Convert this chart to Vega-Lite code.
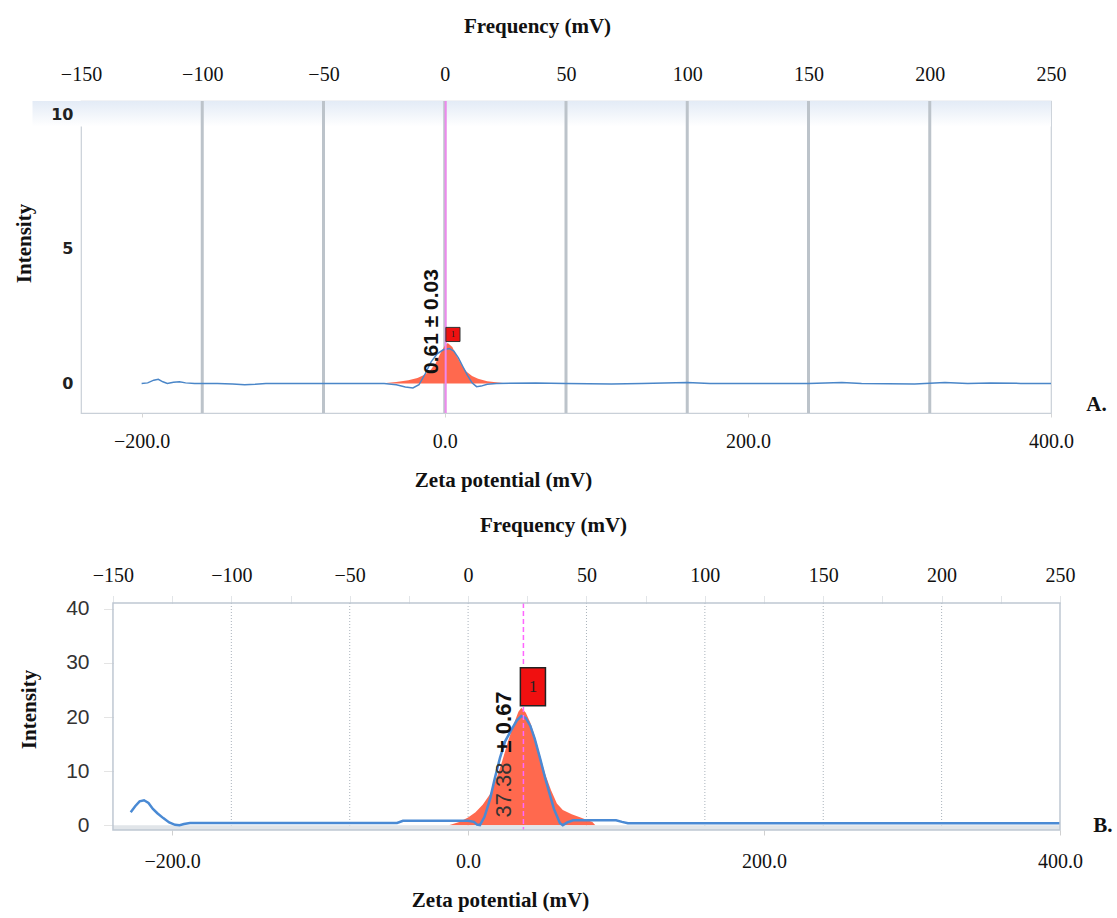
{
  "$schema": "https://vega.github.io/schema/vega-lite/v6.json",
  "background": "white",
  "padding": {"left": 13, "top": 14, "right": 4, "bottom": 4},
  "columns": 1,
  "spacing": 23,
  "config": {
    "axis": {"labelFlush": false, "labelOverlap": false, "labelBound": false, "domain": false, "grid": false},
    "text": {"font": "Liberation Sans"}
  },
  "datasets": {
    "bandA": [{"lo": 9.55, "hi": 10.5}],
    "gridA": [{"f": -100}, {"f": -50}, {"f": 0}, {"f": 50}, {"f": 100}, {"f": 150}, {"f": 200}],
    "gridB": [{"f": -100}, {"f": -50}, {"f": 0}, {"f": 50}, {"f": 100}, {"f": 150}, {"f": 200}],
    "lineA": [
      {"z": -200, "v": 0}, {"z": -196, "v": 0.02}, {"z": -192, "v": 0.12}, {"z": -189, "v": 0.15}, {"z": -186, "v": 0.06},
      {"z": -183, "v": 0.0}, {"z": -179, "v": 0.04}, {"z": -175, "v": 0.06}, {"z": -171, "v": 0.02}, {"z": -165, "v": 0},
      {"z": -150, "v": 0}, {"z": -140, "v": -0.02}, {"z": -132, "v": -0.05}, {"z": -125, "v": -0.03}, {"z": -118, "v": 0},
      {"z": -60, "v": 0}, {"z": -40, "v": 0}, {"z": -32, "v": -0.05}, {"z": -26, "v": -0.13}, {"z": -21, "v": -0.17},
      {"z": -17, "v": -0.05}, {"z": -13, "v": 0.35}, {"z": -9, "v": 0.8}, {"z": -5, "v": 1.1}, {"z": -1, "v": 1.25},
      {"z": 3, "v": 1.3}, {"z": 6, "v": 1.2}, {"z": 9, "v": 0.95}, {"z": 12, "v": 0.62}, {"z": 15, "v": 0.3},
      {"z": 18, "v": 0.02}, {"z": 21, "v": -0.12}, {"z": 24, "v": -0.1}, {"z": 28, "v": -0.03}, {"z": 34, "v": 0},
      {"z": 60, "v": 0.02}, {"z": 80, "v": 0}, {"z": 110, "v": -0.02}, {"z": 130, "v": 0}, {"z": 160, "v": 0.03},
      {"z": 175, "v": 0}, {"z": 240, "v": 0}, {"z": 262, "v": 0.03}, {"z": 275, "v": 0}, {"z": 310, "v": -0.02},
      {"z": 330, "v": 0.03}, {"z": 345, "v": 0}, {"z": 360, "v": 0.02}, {"z": 380, "v": 0}, {"z": 400, "v": 0}
    ],
    "areaA": [
      {"z": -42, "v": 0}, {"z": -32, "v": 0.05}, {"z": -24, "v": 0.12}, {"z": -18, "v": 0.2}, {"z": -14, "v": 0.3},
      {"z": -10, "v": 0.45}, {"z": -6, "v": 0.75}, {"z": -3, "v": 1.1}, {"z": 0, "v": 1.4}, {"z": 2, "v": 1.5},
      {"z": 5, "v": 1.35}, {"z": 8, "v": 1.0}, {"z": 11, "v": 0.7}, {"z": 14, "v": 0.45}, {"z": 18, "v": 0.28},
      {"z": 22, "v": 0.17}, {"z": 28, "v": 0.08}, {"z": 35, "v": 0.03}, {"z": 42, "v": 0}
    ],
    "peakA": [{"z": 0.61}],
    "labA": [{"z": -8.4, "v": 2.3, "t": "0.61 ± 0.03"}],
    "boxA": [{"z": 5.4, "v": 1.82, "t": "1"}],
    "tagA": [{"z": 430, "v": -0.8, "t": "A."}],
    "lineB": [
      {"z": -228, "v": 2.4}, {"z": -225, "v": 3.5}, {"z": -222, "v": 4.4}, {"z": -219, "v": 4.6}, {"z": -216, "v": 4.1},
      {"z": -213, "v": 3.0}, {"z": -210, "v": 2.2}, {"z": -206, "v": 1.3}, {"z": -202, "v": 0.5}, {"z": -198, "v": 0.05},
      {"z": -195, "v": 0.0}, {"z": -192, "v": 0.2}, {"z": -188, "v": 0.4}, {"z": -120, "v": 0.4}, {"z": -48, "v": 0.4},
      {"z": -44, "v": 0.8}, {"z": 0, "v": 0.8}, {"z": 4, "v": 0.6}, {"z": 6, "v": 0.1}, {"z": 8, "v": 0.0},
      {"z": 11, "v": 1.5}, {"z": 13, "v": 3.2}, {"z": 15, "v": 5.0}, {"z": 18, "v": 8.6}, {"z": 21.5, "v": 12.4},
      {"z": 25, "v": 15.5}, {"z": 30, "v": 18.0}, {"z": 33, "v": 19.4}, {"z": 36, "v": 20.2}, {"z": 39, "v": 19.8},
      {"z": 42, "v": 18.4}, {"z": 45, "v": 16.0}, {"z": 48.6, "v": 12.4}, {"z": 52, "v": 8.8}, {"z": 55.3, "v": 5.6},
      {"z": 58, "v": 3.0}, {"z": 62, "v": 0.4}, {"z": 64, "v": 0.0}, {"z": 67, "v": 0.5}, {"z": 71, "v": 0.9},
      {"z": 100, "v": 0.9}, {"z": 104, "v": 0.6}, {"z": 108, "v": 0.35}, {"z": 400, "v": 0.35}
    ],
    "areaB": [
      {"z": -13, "v": 0}, {"z": -6, "v": 0.6}, {"z": 0, "v": 1.4}, {"z": 5, "v": 2.4}, {"z": 10, "v": 3.8},
      {"z": 15, "v": 5.8}, {"z": 19, "v": 8.5}, {"z": 23, "v": 11.8}, {"z": 27, "v": 15.5}, {"z": 31, "v": 18.8},
      {"z": 34, "v": 21.0}, {"z": 36, "v": 21.7}, {"z": 39, "v": 20.8}, {"z": 42, "v": 19.0}, {"z": 45, "v": 16.5},
      {"z": 48, "v": 13.5}, {"z": 52, "v": 9.5}, {"z": 56, "v": 6.5}, {"z": 60, "v": 4.0}, {"z": 64, "v": 2.8},
      {"z": 70, "v": 2.0}, {"z": 76, "v": 1.4}, {"z": 84, "v": 0.6}, {"z": 86, "v": 0}
    ],
    "peakB": [{"z": 37.38}],
    "lab1B": [{"z": 24.2, "v": 6.5, "t": "37.38"}],
    "lab2B": [{"z": 24.2, "v": 19.1, "t": "± 0.67"}],
    "boxB": [{"z": 43.8, "v": 25.6, "t": "1"}],
    "tagB": [{"z": 429, "v": -0.2, "t": "B."}]
  },
  "concat": [
    {
      "width": 970,
      "height": 312,
      "view": {"stroke": "#c9d0d8", "strokeWidth": 1.2},
      "resolve": {"scale": {"x": "independent"}},
      "layer": [
        {
          "data": {"name": "bandA"},
          "mark": {"type": "rect", "color": {"gradient": "linear", "x1": 0, "y1": 0, "x2": 0, "y2": 1, "stops": [{"offset": 0, "color": "#e3ebf6"}, {"offset": 1, "color": "#ffffff"}]}},
          "encoding": {
            "x": {"datum": -272, "type": "quantitative", "scale": {"domain": [-240, 400], "nice": false, "zero": false}, "axis": null},
            "x2": {"datum": 400},
            "y": {"field": "lo", "type": "quantitative", "scale": {"domain": [-1.1, 10.5], "nice": false, "zero": false},
              "axis": {"values": [0, 5, 10], "zindex": 1, "title": "Intensity", "titleFont": "Liberation Serif", "titleFontWeight": "bold", "titleFontSize": 21,
                "titleColor": "#111", "titlePadding": 16, "titleY": 142, "labelFont": "DejaVu Sans", "labelFontWeight": "bold", "labelFontSize": 16,
                "labelColor": "#222", "labelPadding": 8, "ticks": false}},
            "y2": {"field": "hi"}
          }
        },
        {
          "data": {"name": "gridA"},
          "mark": {"type": "rule", "color": "#bcc3ca", "strokeWidth": 3},
          "encoding": {
            "x": {"field": "f", "type": "quantitative", "scale": {"domain": [-150, 250], "nice": false, "zero": false},
              "axis": {"orient": "top", "values": [-150, -100, -50, 0, 50, 100, 150, 200, 250], "title": "Frequency (mV)",
                "titleFont": "Liberation Serif", "titleFontWeight": "bold", "titleFontSize": 21, "titleColor": "#111", "titlePadding": 28, "titleX": 456,
                "labelFont": "Liberation Serif", "labelFontSize": 20, "labelColor": "#111", "labelPadding": 17, "ticks": false, "tickSize": 0}}
          }
        },
        {
          "layer": [
            {
              "data": {"name": "areaA"},
              "mark": {"type": "area", "color": "#ff6145", "opacity": 0.95},
              "encoding": {
                "x": {"field": "z", "type": "quantitative", "scale": {"domain": [-240, 400], "nice": false, "zero": false},
                  "axis": {"orient": "bottom", "values": [-200, 0, 200, 400], "format": ".1f", "title": "Zeta potential (mV)",
                    "titleFont": "Liberation Serif", "titleFontWeight": "bold", "titleFontSize": 21, "titleColor": "#111", "titlePadding": 18, "titleX": 422,
                    "labelFont": "Liberation Serif", "labelFontSize": 20, "labelColor": "#111", "labelPadding": 14, "ticks": true, "tickSize": 4, "tickColor": "#d6d6d6"}},
                "y": {"field": "v", "type": "quantitative", "scale": {"domain": [-1.1, 10.5], "nice": false, "zero": false}}
              }
            },
            {
              "data": {"name": "lineA"},
              "mark": {"type": "line", "color": "#4a86c8", "strokeWidth": 1.5},
              "encoding": {
                "x": {"field": "z", "type": "quantitative", "scale": {"domain": [-240, 400], "nice": false, "zero": false}},
                "y": {"field": "v", "type": "quantitative", "scale": {"domain": [-1.1, 10.5], "nice": false, "zero": false}}
              }
            },
            {
              "data": {"name": "peakA"},
              "mark": {"type": "rule", "color": "#ee88ee", "strokeWidth": 2},
              "encoding": {"x": {"field": "z", "type": "quantitative", "scale": {"domain": [-240, 400], "nice": false, "zero": false}}}
            },
            {
              "data": {"name": "labA"},
              "mark": {"type": "text", "angle": 270, "align": "center", "baseline": "middle", "font": "Liberation Sans", "fontWeight": "bold", "fontSize": 21, "color": "#111"},
              "encoding": {
                "x": {"field": "z", "type": "quantitative", "scale": {"domain": [-240, 400], "nice": false, "zero": false}},
                "y": {"field": "v", "type": "quantitative", "scale": {"domain": [-1.1, 10.5], "nice": false, "zero": false}},
                "text": {"field": "t"}
              }
            },
            {
              "data": {"name": "boxA"},
              "mark": {"type": "point", "shape": "square", "size": 200, "filled": true, "color": "#ee1111", "stroke": "#333", "strokeWidth": 1, "opacity": 1},
              "encoding": {
                "x": {"field": "z", "type": "quantitative", "scale": {"domain": [-240, 400], "nice": false, "zero": false}},
                "y": {"field": "v", "type": "quantitative", "scale": {"domain": [-1.1, 10.5], "nice": false, "zero": false}}
              }
            },
            {
              "data": {"name": "boxA"},
              "mark": {"type": "text", "align": "center", "baseline": "middle", "font": "Liberation Serif", "fontSize": 9, "color": "#222"},
              "encoding": {
                "x": {"field": "z", "type": "quantitative", "scale": {"domain": [-240, 400], "nice": false, "zero": false}},
                "y": {"field": "v", "type": "quantitative", "scale": {"domain": [-1.1, 10.5], "nice": false, "zero": false}},
                "text": {"field": "t"}
              }
            },
            {
              "data": {"name": "tagA"},
              "mark": {"type": "text", "align": "center", "baseline": "middle", "font": "Liberation Serif", "fontWeight": "bold", "fontSize": 21, "color": "#111"},
              "encoding": {
                "x": {"field": "z", "type": "quantitative", "scale": {"domain": [-240, 400], "nice": false, "zero": false}},
                "y": {"field": "v", "type": "quantitative", "scale": {"domain": [-1.1, 10.5], "nice": false, "zero": false}},
                "text": {"field": "t"}
              }
            }
          ]
        }
      ]
    },
    {
      "width": 979,
      "height": 227,
      "view": {"stroke": null},
      "resolve": {"scale": {"x": "independent"}},
      "layer": [
        {
          "data": {"name": "gridB"},
          "mark": {"type": "rule", "color": "#aab3bc", "strokeWidth": 1, "strokeDash": [1, 2]},
          "encoding": {
            "x": {"field": "f", "type": "quantitative", "scale": {"domain": [-163.5, 250], "nice": false, "zero": false},
              "axis": {"orient": "top", "values": [-150, -125, -100, -75, -50, -25, 0, 25, 50, 75, 100, 125, 150, 175, 200, 225, 250],
                "labelExpr": "datum.value % 50 === 0 ? datum.label : ''", "title": "Frequency (mV)",
                "titleFont": "Liberation Serif", "titleFontWeight": "bold", "titleFontSize": 21, "titleColor": "#111", "titlePadding": 30, "titleX": 472,
                "labelFont": "Liberation Serif", "labelFontSize": 20, "labelColor": "#111", "labelPadding": 10, "ticks": true, "tickSize": 8, "tickColor": "#c4cad0", "tickDash": [1, 1]}}
          }
        },
        {
          "layer": [
            {
              "data": {"name": "areaB"},
              "mark": {"type": "area", "color": "#ff6145", "opacity": 0.95},
              "encoding": {
                "x": {"field": "z", "type": "quantitative", "scale": {"domain": [-261.6, 400], "nice": false, "zero": false},
                  "axis": {"orient": "bottom", "values": [-200, 0, 200, 400], "format": ".1f", "title": "Zeta potential (mV)",
                    "titleFont": "Liberation Serif", "titleFontWeight": "bold", "titleFontSize": 21, "titleColor": "#111", "titlePadding": 18, "titleX": 419,
                    "labelFont": "Liberation Serif", "labelFontSize": 20, "labelColor": "#111", "labelPadding": 16, "ticks": true, "tickSize": 5, "tickColor": "#d0d0d0"}},
                "y": {"field": "v", "type": "quantitative", "scale": {"domain": [-0.9, 41.1], "nice": false, "zero": false},
                  "axis": {"values": [0, 10, 20, 30, 40], "offset": -32, "title": "Intensity", "titleFont": "Liberation Serif", "titleFontWeight": "bold", "titleFontSize": 21,
                    "titleColor": "#111", "titlePadding": 26, "titleY": 106, "labelFont": "Liberation Sans Narrow, Liberation Sans", "labelFontSize": 21,
                    "labelColor": "#333", "labelPadding": 14, "ticks": true, "tickSize": 10, "tickColor": "#c8c8c8", "tickDash": [1, 1]}}
              }
            },
            {
              "data": {"name": "tagB"},
              "mark": {"type": "rect", "color": "#e1e5e9"},
              "encoding": {
                "x": {"datum": -240, "type": "quantitative", "scale": {"domain": [-261.6, 400], "nice": false, "zero": false}},
                "x2": {"datum": 400},
                "y": {"datum": -0.9, "type": "quantitative", "scale": {"domain": [-0.9, 41.1], "nice": false, "zero": false}},
                "y2": {"datum": 0}
              }
            },
            {
              "data": {"name": "lineB"},
              "mark": {"type": "line", "color": "#4a8ad4", "strokeWidth": 2.5},
              "encoding": {
                "x": {"field": "z", "type": "quantitative", "scale": {"domain": [-261.6, 400], "nice": false, "zero": false}},
                "y": {"field": "v", "type": "quantitative", "scale": {"domain": [-0.9, 41.1], "nice": false, "zero": false}}
              }
            },
            {
              "data": {"name": "peakB"},
              "mark": {"type": "rule", "color": "#ff66ff", "strokeWidth": 1.5, "strokeDash": [5, 3]},
              "encoding": {"x": {"field": "z", "type": "quantitative", "scale": {"domain": [-261.6, 400], "nice": false, "zero": false}}}
            },
            {
              "data": {"name": "lab1B"},
              "mark": {"type": "text", "angle": 270, "align": "center", "baseline": "middle", "font": "Liberation Sans", "fontSize": 22, "color": "#333"},
              "encoding": {
                "x": {"field": "z", "type": "quantitative", "scale": {"domain": [-261.6, 400], "nice": false, "zero": false}},
                "y": {"field": "v", "type": "quantitative", "scale": {"domain": [-0.9, 41.1], "nice": false, "zero": false}},
                "text": {"field": "t"}
              }
            },
            {
              "data": {"name": "lab2B"},
              "mark": {"type": "text", "angle": 270, "align": "center", "baseline": "middle", "font": "Liberation Sans", "fontWeight": "bold", "fontSize": 22, "color": "#111"},
              "encoding": {
                "x": {"field": "z", "type": "quantitative", "scale": {"domain": [-261.6, 400], "nice": false, "zero": false}},
                "y": {"field": "v", "type": "quantitative", "scale": {"domain": [-0.9, 41.1], "nice": false, "zero": false}},
                "text": {"field": "t"}
              }
            },
            {
              "data": {"name": "boxB"},
              "mark": {"type": "point", "shape": "M-0.66,-1H0.66V1H-0.66Z", "size": 1444, "filled": true, "color": "#f01010", "stroke": "#222", "strokeWidth": 1.5, "opacity": 1},
              "encoding": {
                "x": {"field": "z", "type": "quantitative", "scale": {"domain": [-261.6, 400], "nice": false, "zero": false}},
                "y": {"field": "v", "type": "quantitative", "scale": {"domain": [-0.9, 41.1], "nice": false, "zero": false}}
              }
            },
            {
              "data": {"name": "boxB"},
              "mark": {"type": "text", "align": "center", "baseline": "middle", "font": "Liberation Serif", "fontSize": 17, "color": "#222"},
              "encoding": {
                "x": {"field": "z", "type": "quantitative", "scale": {"domain": [-261.6, 400], "nice": false, "zero": false}},
                "y": {"field": "v", "type": "quantitative", "scale": {"domain": [-0.9, 41.1], "nice": false, "zero": false}},
                "text": {"field": "t"}
              }
            },
            {
              "data": {"name": "tagB"},
              "mark": {"type": "text", "align": "center", "baseline": "middle", "font": "Liberation Serif", "fontWeight": "bold", "fontSize": 21, "color": "#111"},
              "encoding": {
                "x": {"field": "z", "type": "quantitative", "scale": {"domain": [-261.6, 400], "nice": false, "zero": false}},
                "y": {"field": "v", "type": "quantitative", "scale": {"domain": [-0.9, 41.1], "nice": false, "zero": false}},
                "text": {"field": "t"}
              }
            },
            {
              "data": {"name": "tagB"},
              "mark": {"type": "rect", "fill": null, "fillOpacity": 0, "stroke": "#bfc8d2", "strokeWidth": 1.5},
              "encoding": {
                "x": {"datum": -240, "type": "quantitative", "scale": {"domain": [-261.6, 400], "nice": false, "zero": false}},
                "x2": {"datum": 400},
                "y": {"datum": -0.9, "type": "quantitative", "scale": {"domain": [-0.9, 41.1], "nice": false, "zero": false}},
                "y2": {"datum": 41.1}
              }
            }
          ]
        }
      ]
    }
  ]
}
